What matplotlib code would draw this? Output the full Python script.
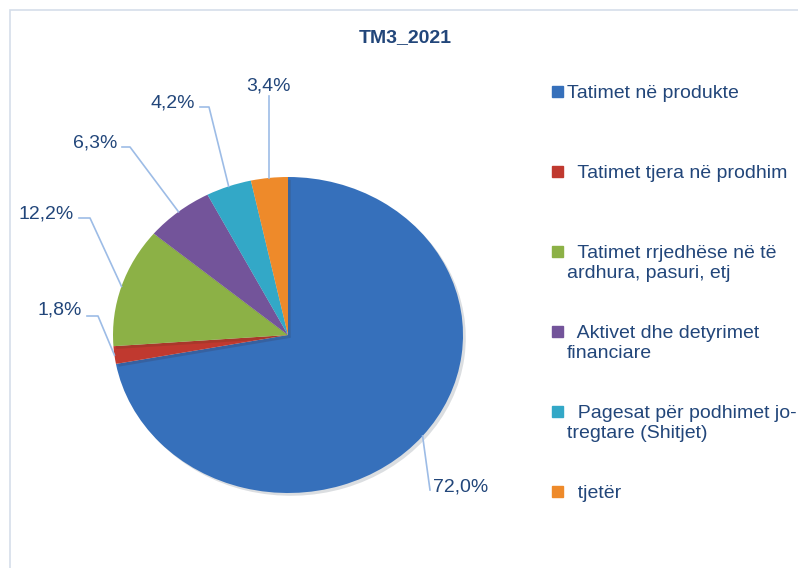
import numpy as np
import matplotlib.pyplot as plt
from matplotlib.patches import Rectangle
import matplotlib.patheffects as pe

# data
categories = ["Tatimet në produkte",
              "  Tatimet tjera në prodhim",
              "  Tatimet rrjedhëse në të\nardhura, pasuri, etj",
              "  Aktivet dhe detyrimet\nfinanciare",
              "  Pagesat për podhimet jo-\ntregtare (Shitjet)",
              "  tjetër"]
shares = [72.0, 1.8, 12.2, 6.3, 4.2, 3.4]
colors = ["#3670BB", "#C0392F", "#8CB146", "#73549A", "#33A8C7", "#EE8A2A"]

txt = "#22467A"
W, H = 798, 568
fig = plt.figure(figsize=(W / 100, H / 100), dpi=100)
plt.rcParams['font.family'] = ['Liberation Sans', 'DejaVu Sans']

# frame (only top/left visible)
fig.patches.append(Rectangle((10 / W, -0.1), 1.2, (H - 10) / H + 0.1,
                             transform=fig.transFigure, fill=False,
                             edgecolor="#D5DEEA", lw=1.2))

fig.text(405 / W, 1 - 38 / H, "TM3_2021", ha='center', va='center',
         fontsize=14, fontweight='bold', color=txt,
         family=['Liberation Sans Narrow', 'Liberation Sans'])

# pie axes, elliptical as in reference
cx, cy, rx, ry = 288, 335, 175, 158
ax = fig.add_axes([(cx - rx) / W, (H - cy - ry) / H, 2 * rx / W, 2 * ry / H])
wedges, _ = ax.pie(shares, colors=colors, startangle=90, counterclock=False,
                   radius=1, wedgeprops=dict(linewidth=0))
for w in wedges:
    w.set_path_effects([pe.SimplePatchShadow(offset=(2, -2), alpha=0.15), pe.Normal()])
ax.set_aspect('auto')
ax.set_xlim(-1, 1)
ax.set_ylim(-1, 1)
ax.axis('off')


def px2d(px, py):
    return (px - cx) / rx, (cy - py) / ry


# label positions (pixel) : text anchor, elbow
label_pos = [((433, 487), 'left', None),
             ((82, 310), 'right', (98, 316)),
             ((74, 214), 'right', (90, 218)),
             ((117, 143), 'right', (130, 147)),
             ((195, 103), 'right', (209, 107)),
             ((268, 86), 'center', None)]
lc = "#9DBCE6"
total = sum(shares)
cum = 0
for v, (tp, ha, elbow) in zip(shares, label_pos):
    mid = (cum + v / 2) / total * 2 * np.pi
    cum += v
    ex, ey = np.sin(mid), np.cos(mid)
    lab = f"{v:.1f}%".replace('.', ',')
    tx, ty = px2d(*tp)
    ax.text(tx, ty, lab, ha=ha, va='center', fontsize=14, color=txt, clip_on=False)
    if elbow is not None:
        bx, by = px2d(*elbow)
        sx, _ = px2d(tp[0] + 5, 0)
        ax.plot([sx, bx, ex], [by, by, ey], color=lc, lw=1.2, clip_on=False)
    elif ha == 'left':
        bx, by = px2d(tp[0] - 3, tp[1] + 3)
        ax.plot([bx, ex], [by, ey], color=lc, lw=1.2, clip_on=False)
    else:
        bx, by = px2d(tp[0] + 2, tp[1] + 10)
        ax.plot([ex, ex], [by, ey], color=lc, lw=1.2, clip_on=False)

# legend drawn manually
for i, (lab, c) in enumerate(zip(categories, colors)):
    y = 92 + 80 * i
    fig.patches.append(Rectangle((552 / W, 1 - (y + 5) / H), 11 / W, 11 / H,
                                 transform=fig.transFigure, color=c))
    fig.text(567 / W, 1 - (y - 7) / H, lab, ha='left', va='top', fontsize=14,
             color=txt, linespacing=1.25)

fig.savefig("out.png", dpi=100, facecolor='white')
